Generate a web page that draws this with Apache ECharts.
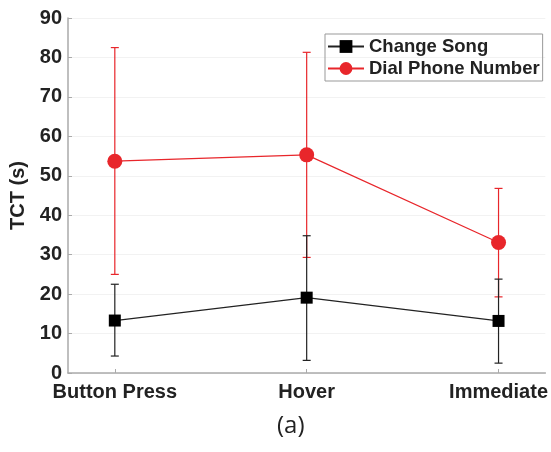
<!DOCTYPE html>
<html>
<head>
<meta charset="utf-8">
<script src="https://cdn.jsdelivr.net/npm/echarts@6/dist/echarts.min.js"></script>
<style>
  html, body { margin: 0; padding: 0; background: #fff; }
  #chart { width: 551px; height: 452px; }
</style>
</head>
<body>
<div id="chart"></div>
<script>
var categories = ["Button Press", "Hover", "Immediate"];
var yTicks = [0, 10, 20, 30, 40, 50, 60, 70, 80, 90];

var songMean = [13.3, 19.1, 13.2];
var songLow = [4.3, 3.2, 2.5];
var songHigh = [22.5, 34.8, 23.8];

var dialMean = [53.7, 55.3, 33.1];
var dialLow = [25.0, 29.3, 19.3];
var dialHigh = [82.5, 81.3, 46.8];

var FONT = "Liberation Sans, Arial, sans-serif";
var INK = "#222";

var myChart = echarts.init(document.getElementById("chart"));

function points(vals) {
  return vals.map(function (v, i) { return [i, v]; });
}
function ranges(low, high) {
  return low.map(function (v, i) { return [i, v, high[i]]; });
}

// 误差线
function errorBar(color) {
  return function (params, api) {
    var top = api.coord([api.value(0), api.value(2)]);
    var bot = api.coord([api.value(0), api.value(1)]);
    var w = 4;
    var style = { stroke: color, lineWidth: 1.2 };
    return {
      type: "group",
      children: [
        { type: "line", shape: { x1: top[0], y1: top[1], x2: bot[0], y2: bot[1] }, style: style },
        { type: "line", shape: { x1: top[0] - w, y1: top[1], x2: top[0] + w, y2: top[1] }, style: style },
        { type: "line", shape: { x1: bot[0] - w, y1: bot[1], x2: bot[0] + w, y2: bot[1] }, style: style }
      ]
    };
  };
}

var option = {
  animation: false,
  backgroundColor: "#fff",
  textStyle: { fontFamily: FONT },
  grid: { left: 68, right: 4, top: 18, bottom: 79 },
  legend: {
    orient: "vertical",
    left: 325,
    top: 34,
    itemGap: 3,
    itemWidth: 36,
    itemHeight: 16,
    padding: [3, 3, 3, 2],
    borderColor: "#999",
    borderWidth: 1,
    textStyle: { color: INK, fontSize: 18.5, fontWeight: "bold", fontFamily: FONT },
    data: ["Change Song", "Dial Phone Number"]
  },
  xAxis: {
    type: "value",
    min: -0.244,
    max: 2.244,
    splitLine: { show: false },
    axisLine: { onZero: false, lineStyle: { color: "#aaa", width: 1.5 } },
    axisTick: { show: true, inside: true, length: 4, customValues: [0, 1, 2], lineStyle: { color: "#aaa" } },
    axisLabel: {
      customValues: [0, 1, 2],
      formatter: function (v) { return categories[Math.round(v)]; },
      color: INK,
      fontSize: 20,
      fontWeight: "bold",
      fontFamily: FONT,
      margin: 9
    }
  },
  yAxis: {
    type: "value",
    min: 0,
    max: 90,
    interval: 10,
    name: "TCT (s)",
    nameLocation: "middle",
    nameGap: 34,
    nameTextStyle: { color: INK, fontSize: 20, fontWeight: "bold", fontFamily: FONT },
    axisLine: { show: true, onZero: false, lineStyle: { color: "#aaa", width: 1.5 } },
    axisTick: { show: true, inside: true, length: 4, lineStyle: { color: "#aaa" } },
    splitLine: { show: true, lineStyle: { color: "#f2f2f2" } },
    axisLabel: {
      color: INK,
      fontSize: 20,
      fontWeight: "bold",
      fontFamily: FONT,
      margin: 6,
      customValues: yTicks
    }
  },
  graphic: [
    {
      type: "text",
      left: 277,
      top: 414,
      style: { text: "(a)", fontSize: 24, fontFamily: "Open Sans, sans-serif", fill: INK }
    }
  ],
  series: [
    {
      type: "custom",
      name: "Dial err",
      renderItem: errorBar("#e8262b"),
      data: ranges(dialLow, dialHigh),
      z: 1
    },
    {
      type: "custom",
      name: "Song err",
      renderItem: errorBar("#222"),
      data: ranges(songLow, songHigh),
      z: 2
    },
    {
      type: "line",
      name: "Change Song",
      data: points(songMean),
      symbol: "rect",
      symbolSize: 12,
      color: "#000",
      lineStyle: { color: "#222", width: 1.2 },
      itemStyle: { color: "#000" },
      z: 3
    },
    {
      type: "line",
      name: "Dial Phone Number",
      data: points(dialMean),
      symbol: "circle",
      symbolSize: 15,
      color: "#e8262b",
      lineStyle: { color: "#e8262b", width: 1.2 },
      itemStyle: { color: "#e8262b" },
      z: 4
    }
  ]
};

myChart.setOption(option);
window.addEventListener("resize", function () {
  myChart.resize();
});
</script>
</body>
</html>
